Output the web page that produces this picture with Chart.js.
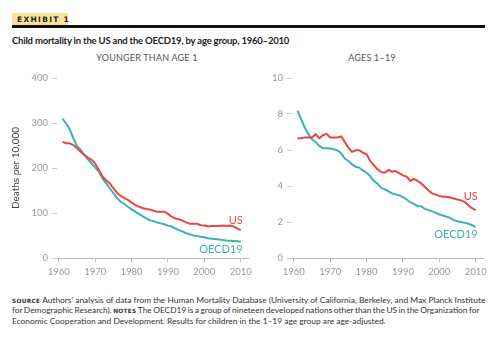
<!DOCTYPE html>
<html>
<head>
<meta charset="utf-8">
<script src="https://cdn.jsdelivr.net/npm/chart.js@4.4.1/dist/chart.umd.min.js"></script>
<style>
  body { margin: 0; background: #fff; width: 500px; height: 339px; position: relative; overflow: hidden; font-family: Lato, "Open Sans", sans-serif; }
  .tag { position: absolute; left: 12px; top: 13px; width: 56px; height: 13px; background: #fbe29b; }
  .tag span { position: absolute; left: 5px; top: 2px; font: bold 7.5px "DejaVu Sans", sans-serif; letter-spacing: 1.3px; color: #222; white-space: nowrap; }
  .rule { position: absolute; left: 12px; top: 25px; width: 473px; height: 3px; background: #111; }
  .title { position: absolute; left: 12px; top: 35px; font-weight: bold; font-size: 9.5px; letter-spacing: -0.2px; color: #222; white-space: nowrap; }
  .panel { position: absolute; top: 52px; font-size: 9px; color: #555; letter-spacing: 0.2px; white-space: nowrap; transform: translateX(-50%); }
  canvas { position: absolute; top: 60px; }
  .foot { position: absolute; left: 12px; top: 295px; font-size: 8.4px; line-height: 10.3px; color: #333; white-space: nowrap; }
  .foot b { font: bold 5.8px "DejaVu Sans", sans-serif; letter-spacing: 0.3px; text-transform: uppercase; }
</style>
</head>
<body>
<div class="tag"><span>EXHIBIT 1</span></div>
<div class="rule"></div>
<div class="title">Child mortality in the US and the OECD19, by age group, 1960–2010</div>
<div class="panel" style="left:147px">YOUNGER THAN AGE 1</div>
<div class="panel" style="left:372px">AGES 1–19</div>
<canvas id="infantChart" width="262" height="230" style="left:0"></canvas>
<canvas id="childChart" width="238" height="230" style="left:262px"></canvas>
<div class="foot">
  <div><b>Source</b> Authors’ analysis of data from the Human Mortality Database (University of California, Berkeley, and Max Planck Institute</div>
  <div style="word-spacing:-0.7px">for Demographic Research). <b>Notes</b> The OECD19 is a group of nineteen developed nations other than the US in the Organization for</div>
  <div>Economic Cooperation and Development. Results for children in the 1–19 age group are age-adjusted.</div>
</div>
<script>
// years 1961–2010
const years = [];
for (let y = 1961; y <= 2010; y++) years.push(y);
const decadeTicks = [1960, 1970, 1980, 1990, 2000, 2010];

// deaths per 10,000, younger than age 1
const infantUS = [258, 255, 255, 251, 244, 236, 229, 223, 218, 210,
  196, 181, 173, 166, 155, 145, 138, 133, 129, 123,
  118, 114, 111, 109, 108, 105, 103, 103, 103, 98,
  92, 88, 86, 83, 79, 76, 76, 76, 73, 72,
  70, 71, 71, 71, 72, 71, 72, 70, 66, 62];
const infantOECD = [310, 299, 286, 266, 249, 240, 229, 219, 210, 201,
  192, 177, 166, 155, 144, 133, 125, 120, 114, 108,
  103, 98, 93, 88, 84, 82, 79, 77, 75, 72,
  70, 66, 62, 59, 55, 53, 50, 49, 47, 46,
  44, 43, 42, 41, 40, 39, 38.5, 38, 37, 36];

// deaths per 10,000, ages 1–19
const childUS = [6.65, 6.65, 6.7, 6.7, 6.7, 6.88, 6.65, 6.82, 6.9, 6.7,
  6.7, 6.7, 6.75, 6.45, 6.13, 5.9, 5.98, 5.98, 5.85, 5.76,
  5.39, 5.15, 4.93, 4.78, 4.74, 4.89, 4.8, 4.83, 4.7, 4.59,
  4.52, 4.28, 4.4, 4.28, 4.15, 3.96, 3.75, 3.59, 3.53, 3.44,
  3.4, 3.4, 3.36, 3.31, 3.25, 3.2, 3.1, 2.92, 2.77, 2.66];
const childOECD = [8.18, 7.71, 7.25, 6.88, 6.6, 6.45, 6.23, 6.1, 6.1, 6.08,
  6.04, 5.98, 5.82, 5.52, 5.39, 5.2, 5.07, 5.02, 4.87, 4.74,
  4.55, 4.28, 4.13, 3.9, 3.81, 3.7, 3.59, 3.53, 3.48, 3.38,
  3.25, 3.1, 3.01, 2.88, 2.88, 2.73, 2.66, 2.6, 2.51, 2.42,
  2.36, 2.29, 2.23, 2.1, 2.04, 2.0, 1.95, 1.9, 1.82, 1.73];

const RED = '#e8483f';
const TEAL = '#3bb3b0';
const FONT = 'Lato, "Open Sans", sans-serif';

// writes each series name just off its last point
const endLabels = {
  id: 'endLabels',
  afterDatasetsDraw(chart) {
    const ctx = chart.ctx;
    ctx.save();
    ctx.font = '11px ' + FONT;
    ctx.textAlign = 'right';
    ctx.textBaseline = 'middle';
    chart.data.datasets.forEach((ds, i) => {
      const pts = chart.getDatasetMeta(i).data;
      const last = pts[pts.length - 1];
      ctx.fillStyle = ds.borderColor;
      ctx.fillText(ds.label, last.x + 2, last.y + ds.labelDy);
    });
    ctx.restore();
  }
};

function series(vals) {
  return vals.map((v, i) => ({ x: years[i], y: v }));
}

function makeChart(id, us, oecd, yMax, yStep, yWidth, yTitle, usDy, oecdDy, rightPad) {
  return new Chart(document.getElementById(id), {
    type: 'line',
    data: {
      datasets: [
        { label: 'US', data: series(us), borderColor: RED, borderWidth: 2, pointRadius: 0, tension: 0, labelDy: usDy },
        { label: 'OECD19', data: series(oecd), borderColor: TEAL, borderWidth: 2, pointRadius: 0, tension: 0, labelDy: oecdDy }
      ]
    },
    options: {
      responsive: false,
      animation: false,
      devicePixelRatio: 1,
      layout: { padding: { top: 18, right: rightPad, left: 0, bottom: 0 } },
      plugins: { legend: { display: false }, tooltip: { enabled: false } },
      scales: {
        x: {
          type: 'linear',
          min: 1959.5,
          max: 2012,
          afterBuildTicks: s => { s.ticks = decadeTicks.map(v => ({ value: v })); },
          afterFit: s => { s.height = 32; },
          ticks: { callback: v => String(v), color: '#999', font: { family: FONT, size: 9.5 }, padding: 4, maxRotation: 0 },
          grid: { drawOnChartArea: false, drawTicks: true, tickLength: 4, color: '#bbb' },
          border: { display: true, color: '#bbb', width: 1 }
        },
        y: {
          min: 0,
          max: yMax,
          afterFit: s => { s.width = yWidth; },
          ticks: { stepSize: yStep, color: '#999', font: { family: FONT, size: 9.5 }, padding: 4 },
          grid: { drawOnChartArea: false, drawTicks: true, tickLength: 5, color: '#ccc' },
          border: { display: false },
          title: { display: !!yTitle, text: yTitle, color: '#444', font: { family: FONT, size: 10 }, padding: { top: 10, bottom: 0 } }
        }
      }
    },
    plugins: [endLabels]
  });
}

makeChart('infantChart', infantUS, infantOECD, 400, 100, 57, 'Deaths per 10,000', -10, 8, 14);
makeChart('childChart', childUS, childOECD, 10, 2, 30, '', -14, 8, 17);
</script>
</body>
</html>
